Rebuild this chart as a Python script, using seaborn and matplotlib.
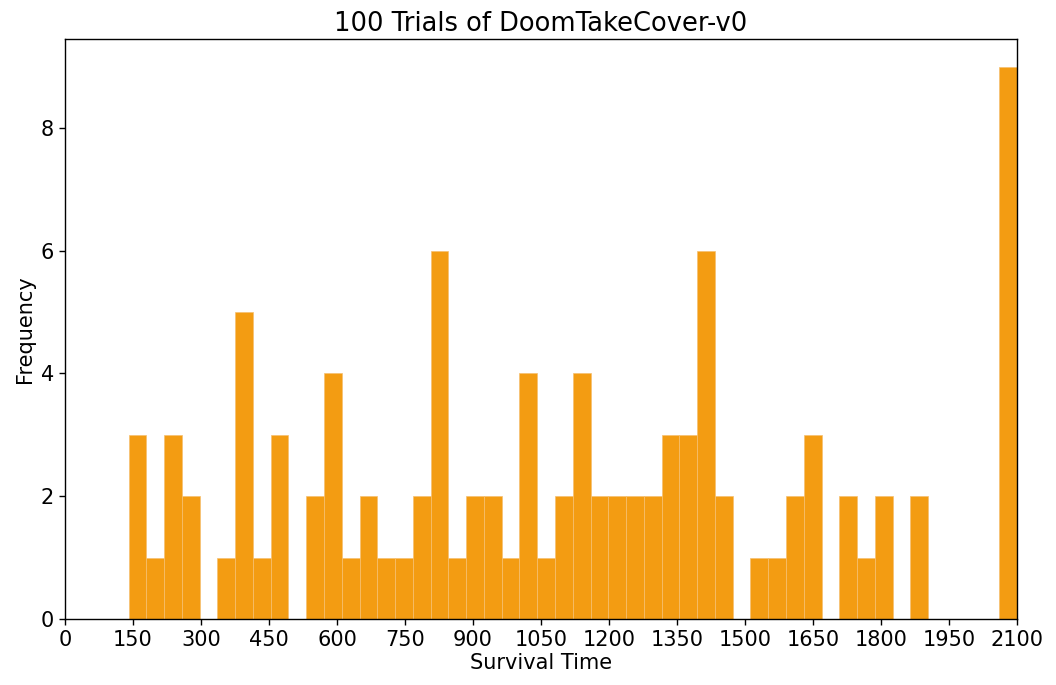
import numpy as np
import pandas as pd
import matplotlib
matplotlib.use("Agg")
import matplotlib.pyplot as plt
import seaborn as sns

# Histogram counts: 50 equal bins from 140 to 2100
BIN_START = 140
BIN_END = 2100
N_BINS = 50
counts = [3, 1, 3, 2, 0, 1, 5, 1, 3, 0,
          2, 4, 1, 2, 1, 1, 2, 6, 1, 2,
          2, 1, 4, 1, 2, 4, 2, 2, 2, 2,
          3, 3, 6, 2, 0, 1, 1, 2, 3, 0,
          2, 1, 2, 0, 2, 0, 0, 0, 0, 9]
x_ticks = list(range(0, 2101, 150))
y_ticks = [0, 2, 4, 6, 8]

edges = np.linspace(BIN_START, BIN_END, N_BINS + 1)
centers = (edges[:-1] + edges[1:]) / 2
df = pd.DataFrame({"survival": centers, "count": counts})

sns.set_style("white")
plt.rcParams["font.family"] = ["DejaVu Sans"]
plt.rcParams.update({
    "text.color": "black",
    "axes.labelcolor": "black",
    "xtick.color": "black",
    "ytick.color": "black",
})

fig = plt.figure(figsize=(10.56, 6.85), dpi=100)
ax = fig.add_axes([0.0616, 0.0964, 0.9015, 0.8467])

sns.histplot(data=df, x="survival", weights="count", bins=N_BINS,
             binrange=(BIN_START, BIN_END), ax=ax,
             color="#F39C12", alpha=1.0, edgecolor="#F6C070", linewidth=0.5)

ax.set_xlim(0, 2100)
ax.set_ylim(0, 9 * 1.05)
ax.set_xticks(x_ticks)
ax.set_yticks(y_ticks)
ax.tick_params(axis="both", labelsize=15, direction="out", length=4.5, width=1,
               bottom=True, left=True)
ax.set_xlabel("Survival Time", fontsize=15, labelpad=2)
ax.set_ylabel("Frequency", fontsize=15)
ax.set_title("100 Trials of DoomTakeCover-v0", fontsize=18.5, pad=6)
for s in ax.spines.values():
    s.set_color("black")
    s.set_linewidth(1.0)

fig.savefig("out.png", dpi=100, facecolor="white")
